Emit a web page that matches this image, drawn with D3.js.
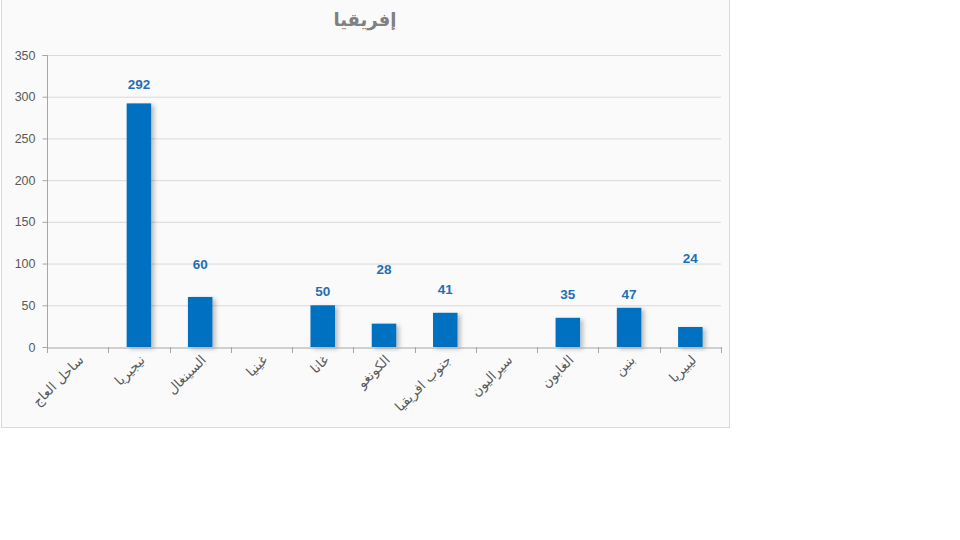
<!DOCTYPE html>
<html><head><meta charset="utf-8">
<script src="https://cdn.jsdelivr.net/npm/d3@7/dist/d3.min.js"></script>
<style>html,body{margin:0;padding:0;background:#fff;}svg{display:block;}</style>
</head><body>
<svg id="c" width="960" height="540"></svg>
<script>
const title = "إفريقيا";
const categories = ["ساحل العاج","نيجيريا","السينغال","غينيا","غانا","الكونغو","جنوب افريقيا","سيراليون","الغابون","بنين","ليبيريا"];
const values = [null,292,60,null,50,28,41,null,35,47,24];
const yTicks = [0,50,100,150,200,250,300,350];
// manual label lifts above the bar top (px), as in the reference
const labelLift = [0,18,32,0,13,53,22,0,22,12,68];

const svg = d3.select("#c");
const defs = svg.append("defs");
const f = defs.append("filter").attr("id","sh").attr("x","-20%").attr("y","-20%").attr("width","160%").attr("height","140%");
f.append("feDropShadow").attr("dx",3).attr("dy",2).attr("stdDeviation",2).attr("flood-color","#000").attr("flood-opacity",0.25);

svg.append("rect").attr("x",1.5).attr("y",-1).attr("width",728).attr("height",428.5)
  .attr("fill","#fafafa").attr("stroke","#d9d9d9");

const m = {l:47,r:721,t:55,b:347};
const x = d3.scaleBand().domain(categories).range([m.l,m.r]).paddingInner(0.6).paddingOuter(0.3);
const xc = d3.scaleBand().domain(categories).range([m.l,m.r]);
const y = d3.scaleLinear().domain([0,350]).range([m.b,m.t]);

// grid
svg.append("g").selectAll("line").data(yTicks.filter(d=>d>0)).join("line")
  .attr("x1",m.l).attr("x2",m.r).attr("y1",d=>y(d)+0.5).attr("y2",d=>y(d)+0.5)
  .attr("stroke","#d9d9d9");

// y axis
const ya = svg.append("g").attr("transform",`translate(${m.l+0.5},0)`)
  .call(d3.axisLeft(y).tickValues(yTicks).tickSize(5).tickPadding(7).tickFormat(d3.format("d")));
ya.select(".domain").attr("stroke","#a6a6a6").attr("d",`M-5,${m.t+0.5}H0V${m.b+0.5}`);
ya.selectAll(".tick line").attr("stroke","#a6a6a6");
ya.selectAll(".tick text").attr("fill","#595959").style("font-family","'Liberation Sans',Arial,sans-serif").style("font-size","12.5px");

// bars
svg.append("g").selectAll("rect").data(categories.map((c,i)=>({c,v:values[i],i})).filter(d=>d.v!=null)).join("rect")
  .attr("x",d=>x(d.c)).attr("width",x.bandwidth())
  .attr("y",d=>y(d.v)).attr("height",d=>y(0)-y(d.v))
  .attr("fill","#0070c0").attr("filter","url(#sh)");

// x axis
const xa = svg.append("g").attr("transform",`translate(0,${m.b+0.5})`)
  .call(d3.axisBottom(xc).tickSize(0).tickFormat(""));
xa.select(".domain").attr("stroke","#a6a6a6");
svg.append("g").selectAll("line").data(d3.range(categories.length+1)).join("line")
  .attr("x1",i=>Math.round(m.l+i*xc.step())+0.5).attr("x2",i=>Math.round(m.l+i*xc.step())+0.5)
  .attr("y1",m.b).attr("y2",m.b+6).attr("stroke","#a6a6a6");

svg.append("g").selectAll("text").data(categories).join("text")
  .attr("transform",d=>`translate(${xc(d)+xc.bandwidth()/2+4},${m.b+11}) rotate(-45)`)
  .attr("text-anchor","end").attr("dominant-baseline","middle")
  .attr("fill","#595959").style("font-family","'DejaVu Sans',sans-serif").style("font-size","13.5px")
  .text(d=>d);

// labels
svg.append("g").selectAll("text").data(categories.map((c,i)=>({c,v:values[i],i})).filter(d=>d.v!=null)).join("text")
  .attr("x",d=>x(d.c)+x.bandwidth()/2).attr("y",d=>y(d.v)-labelLift[d.i])
  .attr("text-anchor","middle").attr("dominant-baseline","middle")
  .attr("fill","#1f6fb4").style("font-family","'Liberation Sans',Arial,sans-serif").style("font-size","13.5px").style("font-weight","bold")
  .text(d=>d.v);

// title
svg.append("text").attr("x",365).attr("y",21).attr("text-anchor","middle").attr("dominant-baseline","middle")
  .attr("fill","#808080").style("font-family","'DejaVu Sans',sans-serif").style("font-size","18px").style("font-weight","bold")
  .text(title);
</script>
</body></html>
